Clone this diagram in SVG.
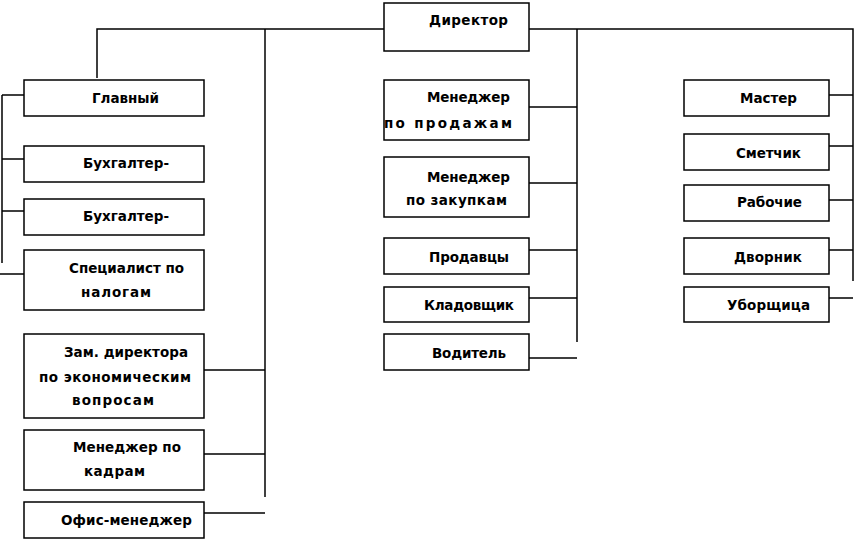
<svg xmlns="http://www.w3.org/2000/svg" width="854" height="541" viewBox="0 0 854 541">
<style>
.b{fill:#fff;stroke:#000;stroke-width:1.5}
.c{fill:none;stroke:#000;stroke-width:1.5}
text{font-family:"DejaVu Sans","Liberation Sans",sans-serif;font-size:13.5px;font-weight:bold;fill:#000}
</style>
<rect width="854" height="541" fill="#fff"/>
<g id="connectors" class="c">
<path d="M97,78V29H384M529,29H853V281"/>
<path d="M265,29V497"/>
<path d="M2,95V263M2,95H24M2,159H24M2,211H24M0,274H24"/>
<path d="M204,370H265M204,454H265M204,513H265"/>
<path d="M577,29V342M529,107H577M529,183H577M529,250H577M529,298H577M529,358H577"/>
<path d="M829,95H853M829,146H853M829,200H853M829,250H853M829,298H853"/>
</g>
<g id="director"><rect class="b" x="384" y="3" width="145" height="48"/><text x="429" y="25" textLength="79">Директор</text></g>
<g id="glavny"><rect class="b" x="24" y="80" width="180" height="36"/><text x="92" y="103" textLength="67">Главный</text></g>
<g id="buh1"><rect class="b" x="24" y="146" width="180" height="36"/><text x="83" y="168" textLength="86">Бухгалтер-</text></g>
<g id="buh2"><rect class="b" x="24" y="199" width="180" height="36"/><text x="83" y="221" textLength="86">Бухгалтер-</text></g>
<g id="nalog"><rect class="b" x="24" y="250" width="180" height="60"/><text x="69" y="273" textLength="115">Специалист по</text><text x="81" y="297" textLength="70">налогам</text></g>
<g id="zam"><rect class="b" x="24" y="334" width="180" height="84"/><text x="64" y="357" textLength="124">Зам. директора</text><text x="39" y="382" textLength="152">по экономическим</text><text x="72" y="405" textLength="82">вопросам</text></g>
<g id="kadry"><rect class="b" x="24" y="430" width="180" height="60"/><text x="73" y="452" textLength="108">Менеджер по</text><text x="84" y="476" textLength="61">кадрам</text></g>
<g id="office"><rect class="b" x="24" y="502" width="180" height="36"/><text x="61" y="525" textLength="131">Офис-менеджер</text></g>
<g id="sales"><rect class="b" x="384" y="80" width="145" height="60"/><text x="427" y="102" textLength="83">Менеджер</text><text x="384" y="128" textLength="128">по продажам</text></g>
<g id="purchase"><rect class="b" x="384" y="157" width="145" height="60"/><text x="427" y="182" textLength="83">Менеджер</text><text x="406" y="205" textLength="101">по закупкам</text></g>
<g id="prodavcy"><rect class="b" x="384" y="238" width="145" height="36"/><text x="429" y="262" textLength="80">Продавцы</text></g>
<g id="klad"><rect class="b" x="384" y="287" width="145" height="35"/><text x="424" y="310" textLength="90">Кладовщик</text></g>
<g id="voditel"><rect class="b" x="384" y="334" width="145" height="36"/><text x="432" y="358" textLength="74">Водитель</text></g>
<g id="master"><rect class="b" x="684" y="80" width="145" height="36"/><text x="740" y="103" textLength="57">Мастер</text></g>
<g id="smetchik"><rect class="b" x="684" y="134" width="145" height="36"/><text x="736" y="158" textLength="65">Сметчик</text></g>
<g id="rabochie"><rect class="b" x="684" y="185" width="145" height="36"/><text x="737" y="207" textLength="65">Рабочие</text></g>
<g id="dvornik"><rect class="b" x="684" y="238" width="145" height="36"/><text x="734" y="262" textLength="68">Дворник</text></g>
<g id="uborsh"><rect class="b" x="684" y="287" width="145" height="35"/><text x="727" y="310" textLength="83">Уборщица</text></g>
</svg>
